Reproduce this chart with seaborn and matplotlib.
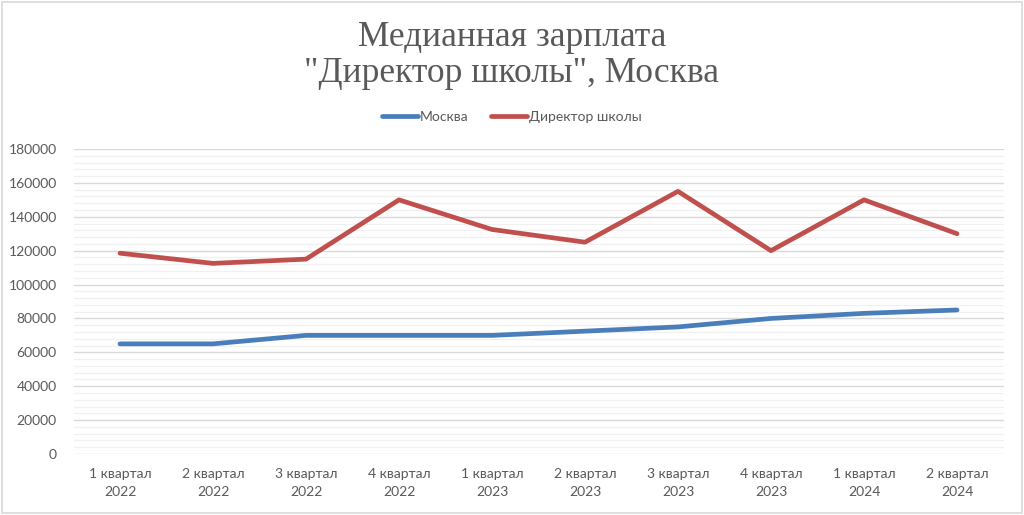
import matplotlib
matplotlib.use("Agg")
import matplotlib.pyplot as plt
import seaborn as sns
import pandas as pd
from matplotlib.ticker import MultipleLocator
from matplotlib.patches import Rectangle
from matplotlib.lines import Line2D

categories = ["1 квартал\n2022", "2 квартал\n2022", "3 квартал\n2022", "4 квартал\n2022",
              "1 квартал\n2023", "2 квартал\n2023", "3 квартал\n2023", "4 квартал\n2023",
              "1 квартал\n2024", "2 квартал\n2024"]
moscow = [65000, 65000, 70000, 70000, 70000, 72500, 75000, 80000, 83000, 85000]
director = [118500, 112500, 115000, 150000, 132500, 125000, 155000, 120000, 150000, 130000]
series_names = ["Москва", "Директор школы"]
colors = ["#4A7EBB", "#C0504D"]

df = pd.DataFrame({
    "cat": categories * 2,
    "idx": list(range(len(categories))) * 2,
    "value": moscow + director,
    "series": [series_names[0]] * len(categories) + [series_names[1]] * len(categories),
})

sns.set_theme(style="white")
plt.rcParams["font.family"] = ["Lato", "DejaVu Sans"]

fig = plt.figure(figsize=(10.24, 5.15), dpi=100)
ax = fig.add_axes([73.5 / 1024, 1 - 454 / 515, 930 / 1024, 305 / 515])

sns.lineplot(data=df, x="idx", y="value", hue="series", palette=colors,
             hue_order=series_names, linewidth=3.4, ax=ax, legend=False,
             solid_capstyle="round")

ax.set_xlim(-0.5, len(categories) - 0.5)
ax.set_ylim(0, 180000)
ax.yaxis.set_major_locator(MultipleLocator(20000))
ax.yaxis.set_minor_locator(MultipleLocator(4000))
ax.set_xticks(range(len(categories)))
ax.set_xticklabels(categories)
ax.grid(which="major", axis="y", color="#D9D9D9", linewidth=1.0)
ax.grid(which="minor", axis="y", color="#F0F0F0", linewidth=0.9)
ax.set_axisbelow(True)
for s in ax.spines.values():
    s.set_visible(False)
ax.tick_params(axis="both", which="both", length=0, labelsize=10, colors="#595959")
ax.tick_params(axis="x", pad=10)
ax.tick_params(axis="y", pad=12)
ax.set_xlabel("")
ax.set_ylabel("")
for lbl in ax.get_xticklabels():
    lbl.set_linespacing(1.6)

fig.text(0.5, 1 - 56 / 515, "Медианная зарплата\n\"Директор школы\", Москва",
         ha="center", va="center", fontsize=25.5, color="#595959",
         family=["Liberation Serif", "DejaVu Serif"], linespacing=1.12)

handles = [Line2D([0], [0], color=c, linewidth=3.4, solid_capstyle="round") for c in colors]
fig.legend(handles, series_names, loc="center", bbox_to_anchor=(0.5, 1 - 117 / 515),
           ncol=2, frameon=False, fontsize=10, labelcolor="#595959",
           handlelength=2.6, handletextpad=0.15, columnspacing=1.6)

fig.patches.append(Rectangle((0.002, 0.004), 0.996, 0.992, transform=fig.transFigure,
                             fill=False, edgecolor="#D9D9D9", linewidth=1.2))

fig.savefig("out.png", dpi=100)
